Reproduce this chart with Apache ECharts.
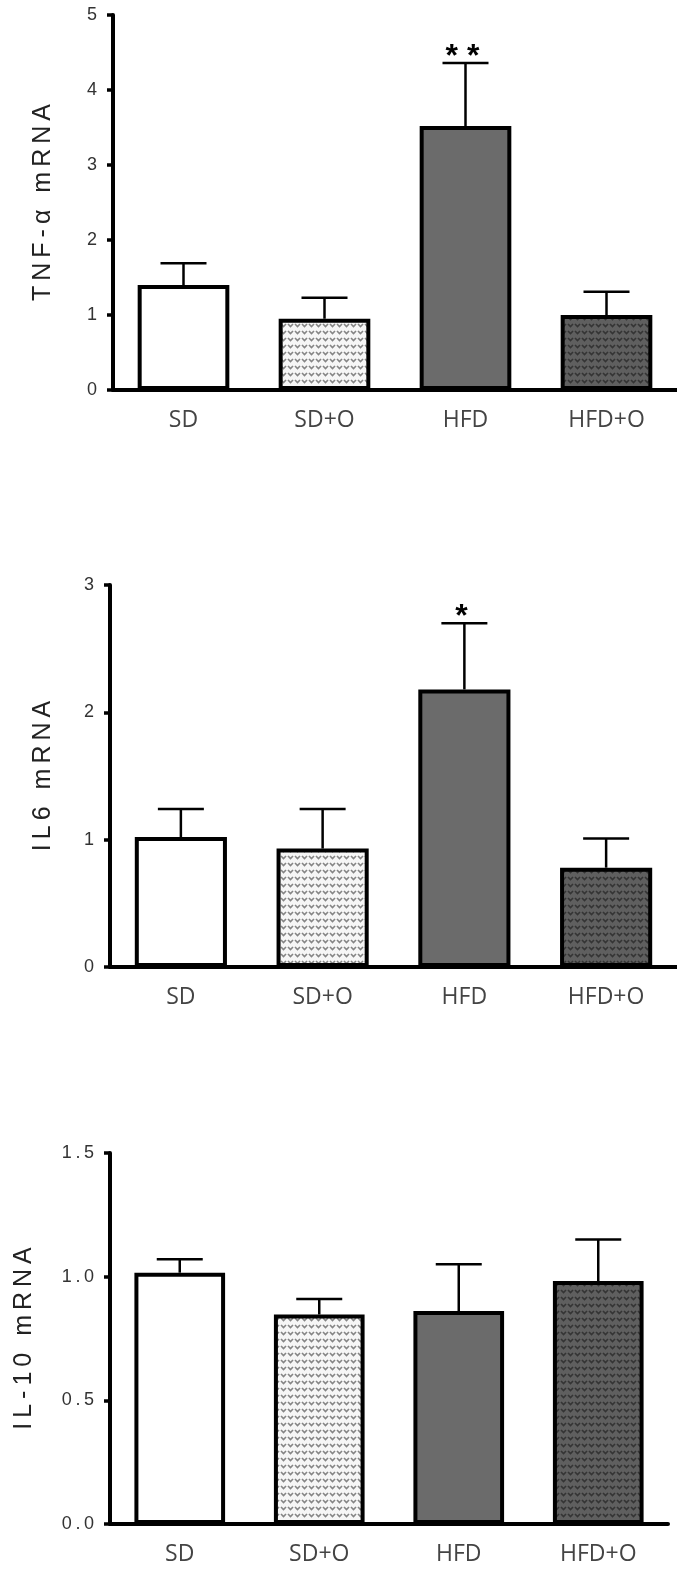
<!DOCTYPE html>
<html>
<head>
<meta charset="utf-8">
<script src="https://cdn.jsdelivr.net/npm/echarts@6/dist/echarts.min.js"></script>
<style>
html,body{margin:0;padding:0;background:#fff;}
#chart{width:677px;height:1571px;}
</style>
</head>
<body>
<div id="chart"></div>
<script>
// ---- data ----
const categories = ['SD', 'SD+O', 'HFD', 'HFD+O'];

const tnfTitle = 'TNF-α mRNA';
const tnfMean  = [1.40, 0.95, 3.52, 1.00];
const tnfUpper = [1.69, 1.23, 4.36, 1.31];
const tnfMarks = ['', '', '**', ''];
const tnfTicks = [0, 1, 2, 3, 4, 5];

const il6Title = 'IL6 mRNA';
const il6Mean  = [1.02, 0.93, 2.18, 0.78];
const il6Upper = [1.24, 1.24, 2.70, 1.01];
const il6Marks = ['', '', '*', ''];
const il6Ticks = [0, 1, 2, 3];

const il10Title = 'IL-10 mRNA';
const il10Mean  = [1.016, 0.847, 0.861, 0.982];
const il10Upper = [1.07, 0.91, 1.05, 1.15];
const il10Marks = ['', '', '', ''];
const il10Ticks = [0.0, 0.5, 1.0, 1.5];

// ---- styles ----
function makePattern(bg, fg) {
  const c = document.createElement('canvas');
  c.width = 7; c.height = 7;
  const g = c.getContext('2d');
  g.fillStyle = bg; g.fillRect(0, 0, 7, 7);
  g.strokeStyle = fg; g.lineWidth = 1.6;
  g.beginPath(); g.moveTo(1, 2); g.lineTo(3.5, 4.6); g.lineTo(6, 2); g.stroke();
  return c;
}
const barFills = [
  '#ffffff',
  { image: makePattern('#f6f6f6', '#858585'), repeat: 'repeat' },
  '#6b6b6b',
  { image: makePattern('#5f5f5f', '#343434'), repeat: 'repeat' }
];
const spaced = s => s.split('').join('\u2009');

const panels = [
  { title: tnfTitle, mean: tnfMean, upper: tnfUpper, marks: tnfMarks, ticks: tnfTicks,
    grid: { left: 113, top: 15, width: 566, height: 375 }, nameGap: 57, dec: 0 },
  { title: il6Title, mean: il6Mean, upper: il6Upper, marks: il6Marks, ticks: il6Ticks,
    grid: { left: 110, top: 585, width: 573, height: 382 }, nameGap: 54, dec: 0 },
  { title: il10Title, mean: il10Mean, upper: il10Upper, marks: il10Marks, ticks: il10Ticks,
    grid: { left: 110, top: 1153, width: 558, height: 371 }, nameGap: 73, dec: 1 }
];

const grids = [], xAxes = [], yAxes = [], series = [];
panels.forEach((p, k) => {
  grids.push(p.grid);
  xAxes.push({
    type: 'category', gridIndex: k, data: categories,
    axisLine: { lineStyle: { color: '#000', width: 4 } },
    axisTick: { show: false },
    axisLabel: { color: '#444', fontSize: 23, fontFamily: 'Open Sans', margin: 19 }
  });
  const tmin = p.ticks[0], tmax = p.ticks[p.ticks.length - 1];
  yAxes.push({
    type: 'value', gridIndex: k, min: tmin, max: tmax, interval: p.ticks[1] - p.ticks[0],
    splitLine: { show: false },
    axisLine: { show: true, lineStyle: { color: '#000', width: 4 } },
    axisTick: { show: true, length: 6, lineStyle: { color: '#000', width: 3.5 } },
    axisLabel: { color: '#333', fontSize: 18, fontFamily: 'Liberation Sans', margin: 16,
      formatter: v => spaced(v.toFixed(p.dec)) },
    name: spaced(p.title), nameLocation: 'middle', nameRotate: 90, nameGap: p.nameGap,
    nameTextStyle: { color: '#222', fontSize: 25, fontFamily: 'Liberation Sans' }
  });
  series.push({
    type: 'bar', xAxisIndex: k, yAxisIndex: k, barWidth: '65%',
    data: p.mean.map((v, i) => ({ value: v, itemStyle: { color: barFills[i], borderColor: '#000', borderWidth: 4 } })),
    z: 2
  });
  series.push({
    type: 'custom', xAxisIndex: k, yAxisIndex: k, z: 3,
    data: p.mean.map((v, i) => [i, v, p.upper[i]]),
    renderItem: (params, api) => {
      const i = api.value(0);
      const b = api.coord([i, api.value(1)]);
      const t = api.coord([i, api.value(2)]);
      const children = [
        { type: 'line', shape: { x1: t[0], y1: b[1], x2: t[0], y2: t[1] }, style: { stroke: '#000', lineWidth: 2.5 } },
        { type: 'line', shape: { x1: t[0] - 23, y1: t[1], x2: t[0] + 23, y2: t[1] }, style: { stroke: '#000', lineWidth: 2.5 } }
      ];
      const mark = p.marks[i];
      if (mark) {
        children.push({ type: 'text', x: t[0] - 3, y: t[1] - 6,
          style: { text: mark.split('').join(' '), fill: '#000', fontSize: 32, fontWeight: 'bold',
            fontFamily: 'Liberation Sans', align: 'center', verticalAlign: 'middle' } });
      }
      return { type: 'group', children };
    }
  });
});

const chart = echarts.init(document.getElementById('chart'), null, { renderer: 'canvas' });
chart.setOption({
  animation: false,
  backgroundColor: '#fff',
  grid: grids, xAxis: xAxes, yAxis: yAxes, series
});
</script>
</body>
</html>
